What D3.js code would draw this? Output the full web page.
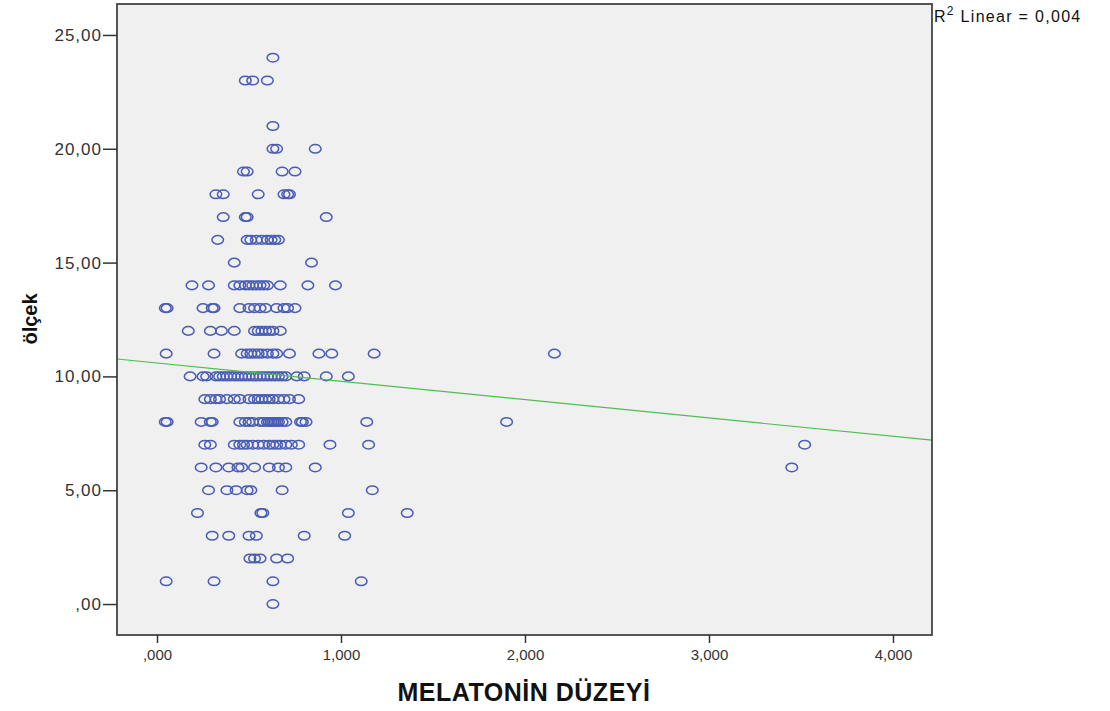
<!DOCTYPE html>
<html>
<head>
<meta charset="utf-8">
<script src="https://cdn.jsdelivr.net/npm/d3@7"></script>
<style>
  body { margin: 0; background: #fff; }
  svg { display: block; }
</style>
</head>
<body>
<div id="chart"></div>
<script>
// Data: ölçek value (y) and the MELATONİN DÜZEYİ values (x) of points on that row
const olcekLevels = [24, 23, 21, 20, 19, 18, 17, 16, 15, 14, 13, 12, 11, 10, 9, 8, 7, 6, 5, 4, 3, 2, 1, 0];
const melatoninByLevel = [
  [0.63],
  [0.48, 0.52, 0.60],
  [0.63],
  [0.63, 0.65, 0.86],
  [0.47, 0.49, 0.68, 0.75],
  [0.32, 0.36, 0.55, 0.69, 0.71, 0.72],
  [0.36, 0.48, 0.49, 0.92],
  [0.33, 0.49, 0.51, 0.54, 0.57, 0.60, 0.62, 0.64, 0.66],
  [0.42, 0.84],
  [0.19, 0.28, 0.42, 0.45, 0.48, 0.50, 0.52, 0.54, 0.56, 0.58, 0.60, 0.67, 0.82, 0.97],
  [0.045, 0.055, 0.25, 0.30, 0.31, 0.45, 0.50, 0.53, 0.56, 0.59, 0.65, 0.69, 0.71, 0.75],
  [0.17, 0.29, 0.35, 0.42, 0.53, 0.55, 0.57, 0.59, 0.61, 0.63, 0.67],
  [0.05, 0.31, 0.46, 0.49, 0.51, 0.53, 0.55, 0.57, 0.60, 0.63, 0.65, 0.72, 0.88, 0.95, 1.18, 2.16],
  [0.18, 0.25, 0.27, 0.32, 0.34, 0.36, 0.38, 0.40, 0.42, 0.44, 0.46, 0.48, 0.50, 0.52, 0.54, 0.56, 0.58, 0.60, 0.62, 0.64, 0.66, 0.68, 0.70, 0.76, 0.80, 0.92, 1.04],
  [0.26, 0.29, 0.32, 0.34, 0.38, 0.42, 0.45, 0.50, 0.53, 0.55, 0.57, 0.59, 0.61, 0.63, 0.66, 0.69, 0.72, 0.77],
  [0.045, 0.055, 0.24, 0.29, 0.30, 0.45, 0.48, 0.50, 0.52, 0.56, 0.58, 0.60, 0.61, 0.62, 0.63, 0.64, 0.65, 0.66, 0.68, 0.70, 0.78, 0.79, 0.81, 1.14, 1.90],
  [0.26, 0.29, 0.42, 0.45, 0.47, 0.49, 0.52, 0.55, 0.58, 0.61, 0.63, 0.65, 0.67, 0.70, 0.73, 0.77, 0.94, 1.15, 3.52],
  [0.24, 0.32, 0.39, 0.44, 0.46, 0.53, 0.61, 0.66, 0.70, 0.86, 3.45],
  [0.28, 0.38, 0.43, 0.49, 0.51, 0.68, 1.17],
  [0.22, 0.565, 0.575, 1.04, 1.36],
  [0.30, 0.39, 0.50, 0.54, 0.80, 1.02],
  [0.505, 0.53, 0.56, 0.65, 0.71],
  [0.05, 0.31, 0.63, 1.11],
  [0.63]
];
const xTicks = [0, 1, 2, 3, 4];
const yTicks = [0, 5, 10, 15, 20, 25];
// Fit line: y = intercept + slope * x
const fitIntercept = 10.59;
const fitSlope = -0.805;
const r2Label = "0,004";

const points = [];
olcekLevels.forEach((lvl, i) => {
  melatoninByLevel[i].forEach((m) => points.push({ x: m, y: lvl }));
});

const width = 1110, height = 711;
const plot = { left: 117, right: 932, top: 4, bottom: 635 };
const font = "Liberation Sans, Arial, sans-serif";

const svg = d3.select("#chart").append("svg")
  .attr("width", width)
  .attr("height", height);

const xScale = d3.scaleLinear().domain([-0.2174, 4.212]).range([plot.left, plot.right]);
const yScale = d3.scaleLinear().domain([-1.36, 26.36]).range([plot.bottom, plot.top]);

// plot background
svg.append("rect")
  .attr("x", plot.left)
  .attr("y", plot.top)
  .attr("width", plot.right - plot.left)
  .attr("height", plot.bottom - plot.top)
  .attr("fill", "#f0f0f0");

// points
svg.append("g")
  .selectAll("ellipse")
  .data(points)
  .enter()
  .append("ellipse")
  .attr("cx", (d) => xScale(d.x))
  .attr("cy", (d) => yScale(d.y))
  .attr("rx", 5.8)
  .attr("ry", 4.3)
  .attr("fill", "none")
  .attr("stroke", "#4a5db5")
  .attr("stroke-width", 1.5);

// fit line
const x0 = xScale.domain()[0], x1 = xScale.domain()[1];
svg.append("line")
  .attr("x1", xScale(x0))
  .attr("y1", yScale(fitIntercept + fitSlope * x0))
  .attr("x2", xScale(x1))
  .attr("y2", yScale(fitIntercept + fitSlope * x1))
  .attr("stroke", "#4cbf4c")
  .attr("stroke-width", 1.2);

// frame
svg.append("rect")
  .attr("x", plot.left)
  .attr("y", plot.top)
  .attr("width", plot.right - plot.left)
  .attr("height", plot.bottom - plot.top)
  .attr("fill", "none")
  .attr("stroke", "#444")
  .attr("stroke-width", 1.8);

// axes
const yAxis = d3.axisLeft(yScale)
  .tickValues(yTicks)
  .tickSize(14)
  .tickPadding(1)
  .tickFormat((d) => d3.format(".2f")(d).replace(/^0/, "").replace(".", ","));

svg.append("g")
  .attr("transform", `translate(${plot.left},0)`)
  .call(yAxis)
  .call((g) => g.select(".domain").remove())
  .call((g) => g.selectAll("line").attr("stroke", "#333").attr("stroke-width", 1.5))
  .call((g) => g.selectAll("text")
    .style("font-family", font)
    .style("font-size", "17px")
    .style("letter-spacing", "1px")
    .attr("fill", "#333"));

const xAxis = d3.axisBottom(xScale)
  .tickValues(xTicks)
  .tickSize(8)
  .tickPadding(6)
  .tickFormat((d) => d3.format(".3f")(d).replace(/^0/, "").replace(".", ","));

svg.append("g")
  .attr("transform", `translate(0,${plot.bottom})`)
  .call(xAxis)
  .call((g) => g.select(".domain").remove())
  .call((g) => g.selectAll("line").attr("stroke", "#333").attr("stroke-width", 1.5))
  .call((g) => g.selectAll("text")
    .style("font-family", font)
    .style("font-size", "15px")
    .attr("fill", "#333"));

// axis titles
svg.append("text")
  .attr("x", 524)
  .attr("y", 701)
  .attr("text-anchor", "middle")
  .style("font-family", font)
  .style("font-weight", "bold")
  .style("font-size", "25px")
  .style("letter-spacing", "0.5px")
  .attr("fill", "#111")
  .text("MELATONİN DÜZEYİ");

svg.append("text")
  .attr("transform", "translate(37,319) rotate(-90)")
  .attr("text-anchor", "middle")
  .style("font-family", font)
  .style("font-weight", "bold")
  .style("font-size", "20px")
  .attr("fill", "#111")
  .text("ölçek");

// R² label
const r2 = svg.append("text")
  .attr("x", 934)
  .attr("y", 22)
  .style("font-family", font)
  .style("font-size", "16px")
  .style("letter-spacing", "1.3px")
  .attr("fill", "#111");
r2.append("tspan").text("R");
r2.append("tspan").attr("dy", -7).style("font-size", "12px").text("2");
r2.append("tspan").attr("dy", 7).text(" Linear = " + r2Label);
</script>
</body>
</html>
